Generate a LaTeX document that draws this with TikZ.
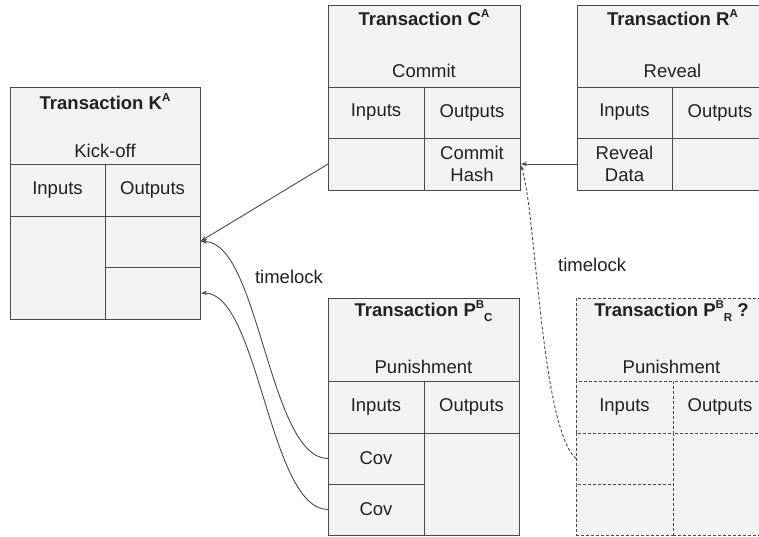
\documentclass[tikz,border=0pt]{standalone}
\usepackage{fontspec}
\setmainfont{Liberation Sans}
\usetikzlibrary{calc,arrows.meta}
\definecolor{linec}{HTML}{4A4A4A}
\definecolor{fillc}{HTML}{F3F3F3}
\definecolor{textc}{HTML}{212121}
\newcommand\supr[1]{\raisebox{0.42em}{\fontsize{11.5}{12}\selectfont #1}}
\newcommand\subr[1]{\raisebox{-0.3em}{\fontsize{11.5}{12}\selectfont #1}}
\begin{document}
\begin{tikzpicture}[x=1pt,y=-1pt,
 cell/.style={draw=linec, fill=fillc, line width=0.9pt, inner sep=0pt, outer sep=0pt, anchor=north west, text=textc, align=center, font=\fontsize{18.5}{22}\selectfont},
 dcell/.style={cell, dash pattern=on 3pt off 2pt},
 ttl/.style={text=textc, font=\fontsize{18.5}{22}\selectfont\bfseries, inner sep=0pt, anchor=base},
 subt/.style={text=textc, font=\fontsize{18.5}{22}\selectfont, inner sep=0pt, anchor=base},
 conn/.style={draw=linec, line width=0.9pt, -{Stealth[length=6pt,width=4.5pt]}},
]
\useasboundingbox (0,0) rectangle (759,536);

% Transaction K
\node[cell, minimum width=190pt, minimum height=77pt] (k-head) at (10,87) {};
\node[cell, minimum width=95pt, minimum height=52pt] (k-in) at (10,164) {Inputs};
\node[cell, minimum width=95pt, minimum height=52pt] (k-out) at (105,164) {Outputs};
\node[cell, minimum width=95pt, minimum height=103pt] (k-ib) at (10,216) {};
\node[cell, minimum width=95pt, minimum height=51pt] (k-o1) at (105,216) {};
\node[cell, minimum width=95pt, minimum height=52pt] (k-o2) at (105,267) {};
\node[ttl] (k-title) at ($(k-head.north)+(0,22)$) {Transaction K\supr{A}};
\node[subt] (k-sub) at ($(k-head.south)+(0,-7)$) {Kick-off};

% Transaction C
\node[cell, minimum width=192pt, minimum height=82pt] (c-head) at (328,5) {};
\node[cell, minimum width=96pt, minimum height=51pt] (c-in) at (328,87) {Inputs};
\node[cell, minimum width=96pt, minimum height=51pt] (c-out) at (424,87) {Outputs};
\node[cell, minimum width=96pt, minimum height=52pt] (c-ib) at (328,138) {};
\node[cell, minimum width=96pt, minimum height=52pt] (c-ob) at (424,138) {Commit\\Hash};
\node[ttl] (c-title) at ($(c-head.north)+(0,20)$) {Transaction C\supr{A}};
\node[subt] (c-sub) at ($(c-head.south)+(0,-10)$) {Commit};

% Transaction R
\node[cell, minimum width=191pt, minimum height=82pt] (r-head) at (577,5) {};
\node[cell, minimum width=95pt, minimum height=51pt] (r-in) at (577,87) {Inputs};
\node[cell, minimum width=96pt, minimum height=51pt] (r-out) at (672,87) {Outputs};
\node[cell, minimum width=95pt, minimum height=52pt] (r-ib) at (577,138) {Reveal\\Data};
\node[cell, minimum width=96pt, minimum height=52pt] (r-ob) at (672,138) {};
\node[ttl] (r-title) at ($(r-head.north)+(0,20)$) {Transaction R\supr{A}};
\node[subt] (r-sub) at ($(r-head.south)+(0,-10)$) {Reveal};

% Transaction P_C
\node[cell, minimum width=191pt, minimum height=83pt] (pc-head) at (328,298) {};
\node[cell, minimum width=96pt, minimum height=52pt] (pc-in) at (328,381) {Inputs};
\node[cell, minimum width=95pt, minimum height=52pt] (pc-out) at (424,381) {Outputs};
\node[cell, minimum width=96pt, minimum height=51pt] (pc-c1) at (328,433) {Cov};
\node[cell, minimum width=96pt, minimum height=51pt] (pc-c2) at (328,484) {Cov};
\node[cell, minimum width=95pt, minimum height=102pt] (pc-ob) at (424,433) {};
\node[ttl] (pc-title) at ($(pc-head.north)+(0,18)$) {Transaction P\supr{B}\subr{C}};
\node[subt] (pc-sub) at ($(pc-head.south)+(0,-8)$) {Punishment};

% Transaction P_R (dashed)
\node[dcell, minimum width=191pt, minimum height=83pt] (pr-head) at (576,298) {};
\node[dcell, minimum width=97pt, minimum height=52pt] (pr-in) at (576,381) {Inputs};
\node[dcell, minimum width=94pt, minimum height=52pt] (pr-out) at (673,381) {Outputs};
\node[dcell, minimum width=97pt, minimum height=51pt] (pr-i1) at (576,433) {};
\node[dcell, minimum width=97pt, minimum height=51pt] (pr-i2) at (576,484) {};
\node[dcell, minimum width=94pt, minimum height=102pt] (pr-ob) at (673,433) {};
\node[ttl] (pr-title) at ($(pr-head.north)+(0,18)$) {Transaction P\supr{B}\subr{R} ?};
\node[subt] (pr-sub) at ($(pr-head.south)+(0,-8)$) {Punishment};

% connectors
\draw[conn, shorten >=1pt] (c-ib.west) -- (k-o1.east);
\draw[conn, shorten >=1pt] (r-ib.west) -- (c-ob.east);
\draw[conn, shorten >=1pt] (pc-c1.west) to[out=180,in=0,looseness=0.6] (k-o1.east);
\draw[conn, shorten >=1pt] (pc-c2.west) to[out=180,in=0,looseness=0.6] (k-o2.east);
\draw[conn, dash pattern=on 3pt off 2pt, shorten >=1pt] (pr-i1.west) to[out=139,in=-70,looseness=0.4] (c-ob.east);

% labels
\node[subt] (tl-left) at (289,283) {timelock};
\node[subt, anchor=base west] (tl-right) at (558,271) {timelock};
\end{tikzpicture}
\end{document}
